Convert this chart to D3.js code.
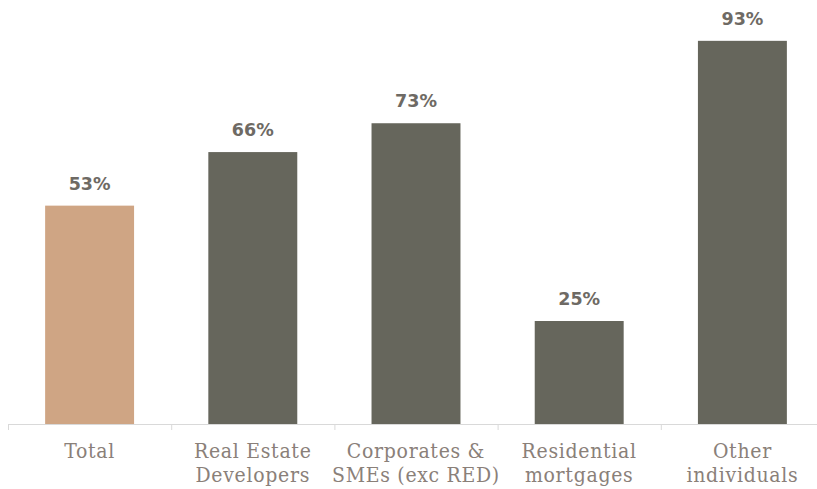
<!DOCTYPE html>
<html>
<head>
<meta charset="utf-8">
<script src="https://cdn.jsdelivr.net/npm/d3@7"></script>
<style>
  html, body { margin: 0; padding: 0; background: #ffffff; }
  svg { display: block; }
</style>
</head>
<body>
<svg id="chart" width="817" height="489"></svg>
<script>
// Share of each loan segment (percent)
const categories = [
  ["Total"],
  ["Real Estate", "Developers"],
  ["Corporates &", "SMEs (exc RED)"],
  ["Residential", "mortgages"],
  ["Other", "individuals"]
];
const values = [53, 66, 73, 25, 93];
const barColors = ["#cfa584", "#66665c", "#66665c", "#66665c", "#66665c"];

const svg = d3.select("#chart");
const baseline = 424;

const x = d3.scaleBand()
  .domain(d3.range(categories.length))
  .range([8, 824])
  .paddingInner(0.455)
  .paddingOuter(0.2275);

const y = d3.scaleLinear()
  .domain([0, 100])
  .range([baseline, baseline - 412]);

// Bars
svg.append("g")
  .selectAll("rect")
  .data(values)
  .join("rect")
  .attr("x", (d, i) => x(i))
  .attr("width", x.bandwidth())
  .attr("y", d => y(d))
  .attr("height", d => y(0) - y(d))
  .attr("fill", (d, i) => barColors[i]);

// Value labels
svg.append("g")
  .selectAll("text")
  .data(values)
  .join("text")
  .attr("x", (d, i) => x(i) + x.bandwidth() / 2)
  .attr("y", d => y(d) - 16)
  .attr("text-anchor", "middle")
  .attr("font-family", "'DejaVu Sans', sans-serif")
  .attr("font-weight", 700)
  .attr("font-size", 17.5)
  .attr("fill", "#6e6a64")
  .text(d => d + "%");

// Category axis with ticks at band boundaries
const axis = svg.append("g");
const step = x.step();
const start = x.range()[0];
axis.append("line")
  .attr("x1", start).attr("x2", 817)
  .attr("y1", baseline + 0.5).attr("y2", baseline + 0.5)
  .attr("stroke", "#d9d9d9").attr("stroke-width", 1);
axis.selectAll("line.tick")
  .data(d3.range(categories.length + 1))
  .join("line")
  .attr("class", "tick")
  .attr("x1", i => start + i * step + 0.5)
  .attr("x2", i => start + i * step + 0.5)
  .attr("y1", baseline)
  .attr("y2", baseline + 6)
  .attr("stroke", "#d9d9d9").attr("stroke-width", 1);

const labels = axis.selectAll("text")
  .data(categories)
  .join("text")
  .attr("x", (d, i) => x(i) + x.bandwidth() / 2)
  .attr("y", 458)
  .attr("text-anchor", "middle")
  .attr("font-family", "'DejaVu Serif Condensed', 'DejaVu Serif', serif")
  .attr("font-stretch", "condensed")
  .attr("font-size", 21)
  .attr("letter-spacing", 0.7)
  .attr("fill", "#8a8079");
labels.selectAll("tspan")
  .data(d => d)
  .join("tspan")
  .attr("x", function () { return d3.select(this.parentNode).attr("x"); })
  .attr("dy", (d, i) => i === 0 ? 0 : 24)
  .text(d => d);
</script>
</body>
</html>
